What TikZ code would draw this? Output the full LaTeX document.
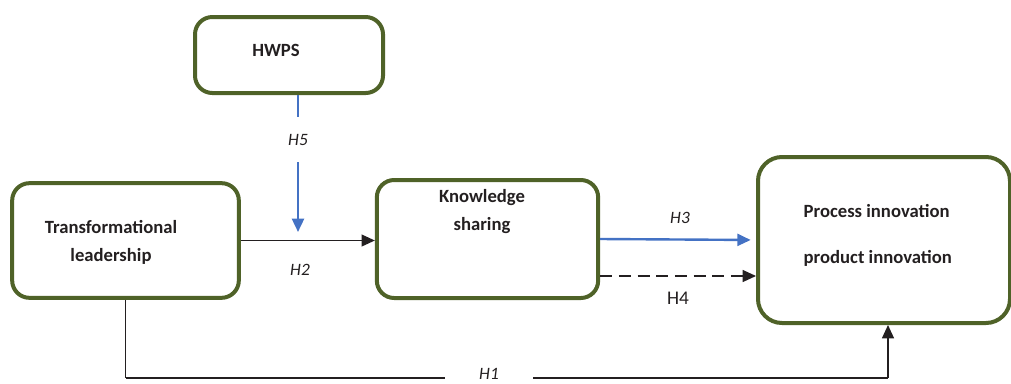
\documentclass[tikz,border=0pt]{standalone}
\usepackage{fontspec}
\setmainfont{Carlito}
\usetikzlibrary{arrows.meta}
\definecolor{boxgreen}{RGB}{79,98,40}
\definecolor{arrowblue}{RGB}{68,114,196}
\definecolor{inktext}{RGB}{35,31,32}
\begin{document}
\begin{tikzpicture}[x=0.75pt,y=-0.75pt,
    varbox/.style={draw=boxgreen,line width=3pt,rounded corners=13pt,inner sep=0pt},
    boxtext/.style={text=inktext,font=\fontsize{14}{21}\selectfont\bfseries},
    hlabel/.style={text=inktext,font=\fontsize{13}{15}\selectfont\itshape},
    tip/.style={-{Triangle[length=10pt,width=9pt]}}]
  \useasboundingbox (0,0) rectangle (1011,383);

  % boxes
  \node[varbox,minimum width=141pt,minimum height=57pt] (hwps) at (289,55) {};
  \node[varbox,minimum width=170pt,minimum height=86pt] (tl) at (125.5,240.5) {};
  \node[varbox,minimum width=166pt,minimum height=88.5pt] (ks) at (487.5,239) {};
  \node[varbox,minimum width=189pt,minimum height=124.5pt,rounded corners=18pt] (pi) at (884,240) {};

  \node[boxtext] (hwpstext) at (276,50) {HWPS};
  \node[boxtext,align=center] (tltext) at (111,242) {Transformational\\ leadership};
  \node[boxtext,align=center] (kstext) at (482,212) {Knowledge\\ sharing};
  \node[boxtext,align=left,anchor=west,font=\fontsize{14}{35}\selectfont\bfseries] (pitext) at (799,235.5)
    {Process innovation\\ product innovation};

  % H5
  \node[hlabel,minimum height=33.75pt] (h5) at (298,139.5) {H5};
  \coordinate (h5tip) at (298,232);
  \draw[arrowblue,line width=0.8pt] ([xshift=6.75pt]hwps.south) -- (h5.north);
  \draw[arrowblue,line width=1.8pt,tip] (h5.south) -- (h5tip);

  % H2
  \draw[inktext,line width=0.9pt,tip] (tl.east) -- (tl.east -| ks.west);
  \node[hlabel] (h2) at (300,270) {H2};

  % H3 and H4
  \draw[arrowblue,line width=1.8pt,tip,shorten >=4pt] (ks.east) -- (pi.west);
  \node[hlabel] (h3) at (680,218) {H3};
  \draw[inktext,line width=0.9pt,dash pattern=on 9pt off 5pt,tip]
    ([yshift=-27.75pt]ks.east) -- ([yshift=-27.75pt]ks.east -| pi.west);
  \node[text=inktext,font=\fontsize{14.5}{16}\selectfont] (h4) at (678,298) {H4};

  % H1
  \node[hlabel,minimum width=66pt] (h1) at (489,374) {H1};
  \coordinate (c1) at (125.5,378);
  \coordinate (c2) at (888,378);
  \draw[inktext,line width=0.9pt] (tl.south) -- (c1);
  \draw[inktext,line width=2.2pt] (c1) -- (h1.west |- c1);
  \draw[inktext,line width=2.2pt] (h1.east |- c2) -- (c2);
  \draw[inktext,line width=0.9pt,tip] (c2) -- (c2 |- pi.south);
\end{tikzpicture}
\end{document}
